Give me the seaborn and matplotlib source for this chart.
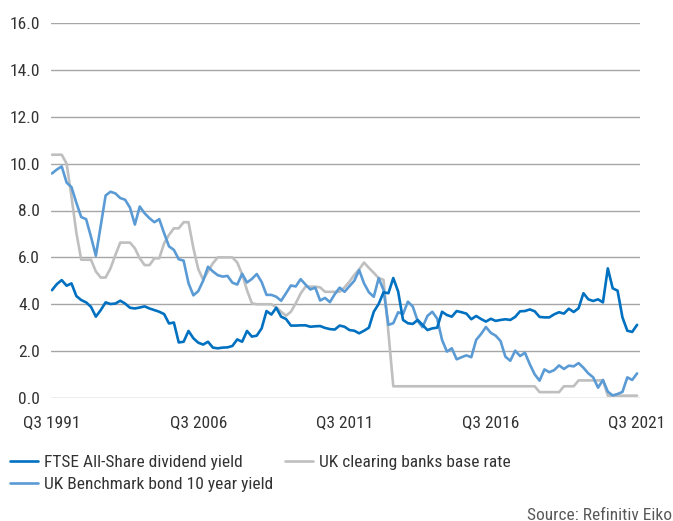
import matplotlib
matplotlib.use("Agg")
import matplotlib.pyplot as plt
from matplotlib import font_manager as fm
import numpy as np
import pandas as pd
import seaborn as sns

# Quarterly observations, Q3 1991 to Q3 2021 (121 quarters)
ftse_dividend_yield = [
    4.60, 4.86, 5.03, 4.79, 4.89, 4.35, 4.18, 4.08, 3.89, 3.47,
    3.75, 4.08, 4.01, 4.03, 4.15, 4.03, 3.85, 3.82, 3.86, 3.91,
    3.82, 3.75, 3.68, 3.58, 3.18, 3.22, 2.37, 2.40, 2.86, 2.55,
    2.36, 2.28, 2.40, 2.15, 2.12, 2.15, 2.16, 2.22, 2.50, 2.40,
    2.86, 2.62, 2.66, 2.97, 3.71, 3.56, 3.85, 3.47, 3.37, 3.09,
    3.09, 3.10, 3.10, 3.04, 3.06, 3.07, 2.99, 2.94, 2.92, 3.09,
    3.04, 2.90, 2.87, 2.76, 2.87, 3.00, 3.68, 4.01, 4.51, 4.47,
    5.12, 4.54, 3.33, 3.19, 3.16, 3.33, 3.12, 2.90, 2.97, 3.00,
    3.68, 3.54, 3.47, 3.71, 3.66, 3.60, 3.36, 3.50, 3.37, 3.26,
    3.38, 3.29, 3.33, 3.36, 3.33, 3.46, 3.70, 3.71, 3.78, 3.70,
    3.46, 3.44, 3.44, 3.57, 3.66, 3.60, 3.81, 3.67, 3.83, 4.47,
    4.21, 4.14, 4.21, 4.08, 5.53, 4.68, 4.58, 3.44, 2.87, 2.82,
    3.12,
]

gilt_10y_yield = [
    9.58, 9.75, 9.88, 9.19, 9.00, 8.33, 7.72, 7.63, 6.88, 6.07,
    7.35, 8.64, 8.80, 8.73, 8.53, 8.46, 8.12, 7.40, 8.17, 7.88,
    7.67, 7.50, 7.63, 7.03, 6.47, 6.32, 5.92, 5.86, 4.90, 4.38,
    4.56, 5.00, 5.60, 5.40, 5.24, 5.18, 5.21, 4.92, 4.84, 5.30,
    4.93, 5.08, 5.29, 4.95, 4.40, 4.40, 4.32, 4.15, 4.47, 4.80,
    4.76, 5.07, 4.84, 4.63, 4.71, 4.16, 4.27, 4.09, 4.43, 4.71,
    4.53, 4.77, 5.00, 5.46, 4.89, 4.51, 4.32, 5.11, 4.61, 3.12,
    3.19, 3.66, 3.58, 4.11, 3.90, 3.29, 3.02, 3.50, 3.68, 3.39,
    2.48, 1.98, 2.12, 1.65, 1.74, 1.82, 1.74, 2.48, 2.73, 3.03,
    2.78, 2.66, 2.43, 1.76, 1.59, 2.02, 1.79, 1.93, 1.44, 1.01,
    0.74, 1.22, 1.10, 1.19, 1.39, 1.24, 1.38, 1.35, 1.49, 1.29,
    1.05, 0.88, 0.44, 0.77, 0.27, 0.11, 0.17, 0.26, 0.88, 0.77,
    1.05,
]

base_rate = [
    10.38, 10.38, 10.38, 10.00, 8.60, 7.05, 5.90, 5.90, 5.90, 5.40,
    5.14, 5.14, 5.53, 6.10, 6.63, 6.63, 6.63, 6.39, 5.96, 5.67,
    5.67, 5.96, 5.96, 6.60, 6.96, 7.24, 7.24, 7.50, 7.50, 6.40,
    5.50, 5.05, 5.40, 5.75, 6.00, 6.00, 6.00, 6.00, 5.78, 5.28,
    4.60, 4.04, 4.00, 4.00, 4.00, 4.00, 3.87, 3.68, 3.51, 3.68,
    4.04, 4.46, 4.75, 4.75, 4.75, 4.72, 4.53, 4.53, 4.53, 4.53,
    4.72, 4.96, 5.25, 5.49, 5.78, 5.55, 5.34, 5.12, 5.04, 2.80,
    0.50, 0.50, 0.50, 0.50, 0.50, 0.50, 0.50, 0.50, 0.50, 0.50,
    0.50, 0.50, 0.50, 0.50, 0.50, 0.50, 0.50, 0.50, 0.50, 0.50,
    0.50, 0.50, 0.50, 0.50, 0.50, 0.50, 0.50, 0.50, 0.50, 0.50,
    0.25, 0.25, 0.25, 0.25, 0.25, 0.50, 0.50, 0.50, 0.75, 0.75,
    0.75, 0.75, 0.75, 0.75, 0.10, 0.10, 0.10, 0.10, 0.10, 0.10,
    0.10,
]

series_names = [
    "FTSE All-Share dividend yield",
    "UK Benchmark bond 10 year yield",
    "UK clearing banks base rate",
]
series_colors = ["#0070C0", "#5B9BD5", "#BFBFBF"]

tick_positions = [0, 30, 60, 90, 120]
tick_labels = ["Q3 1991", "Q3 2006", "Q3 2011", "Q3 2016", "Q3 2021"]
y_ticks = [0, 2, 4, 6, 8, 10, 12, 14, 16]


def pick_narrow_font():
    """Return (family, stretch) of an installed narrow sans face, if any."""
    preferred = ["Liberation Sans Narrow", "Roboto Condensed", "Noto Sans",
                 "Open Sans", "DejaVu Sans", "Roboto", "Liberation Sans"]
    narrow_words = ("condensed", "narrow")
    found = {}
    for f in fm.fontManager.ttflist:
        st = f.stretch
        if isinstance(st, str):
            is_narrow = any(w in st.lower() for w in narrow_words) and "extra" not in st.lower() \
                and "ultra" not in st.lower()
        else:
            is_narrow = 300 <= st < 500
        if "narrow" in f.name.lower() or "condensed" in f.name.lower():
            is_narrow = True
        if not is_narrow or f.style != "normal":
            continue
        w = f.weight if isinstance(f.weight, int) else 400
        if w not in (400, "normal", "regular"):
            continue
        found.setdefault(f.name, st)
    for name in preferred:
        if name in found:
            return name, found[name]
    if found:
        name = sorted(found)[0]
        return name, found[name]
    return "DejaVu Sans", "normal"


df = pd.concat(
    [
        pd.DataFrame({"quarter": np.arange(len(vals)), "value": vals, "series": name})
        for name, vals in zip(series_names, [ftse_dividend_yield, gilt_10y_yield, base_rate])
    ],
    ignore_index=True,
)

sns.set_style("white")
family, stretch = pick_narrow_font()
plt.rcParams["font.family"] = [family, "DejaVu Sans"]
plt.rcParams["font.stretch"] = stretch

fig = plt.figure(figsize=(6.73, 5.21), dpi=100)

# size the text so the legend entry spans about 200 px
probe = fig.text(0, 0, series_names[0], fontsize=13)
fig.canvas.draw()
probe_w = probe.get_window_extent().width
probe.remove()
fs = float(np.clip(13 * 198 / probe_w, 9.5, 13.5))
px_per_fs = fs * 100 / 72

ax = fig.add_axes([51 / 673, 1 - 398 / 521, (640 - 51) / 673, (398 - 23) / 521])

# base rate first so the two yields sit on top of it
draw_order = [series_names[2], series_names[1], series_names[0]]
sns.lineplot(
    data=df,
    x="quarter",
    y="value",
    hue="series",
    hue_order=draw_order,
    palette=dict(zip(series_names, series_colors)),
    linewidth=1.9,
    estimator=None,
    legend=False,
    ax=ax,
)

ax.set_xlim(-0.2, 120.6)
ax.set_ylim(0, 16)
ax.set_yticks(y_ticks)
ax.set_yticklabels([f"{v:.1f}" for v in y_ticks])
ax.set_xticks(tick_positions)
ax.set_xticklabels(tick_labels)
ax.set_xlabel("")
ax.set_ylabel("")

for side in ["top", "right", "left", "bottom"]:
    ax.spines[side].set_visible(False)

ax.grid(axis="y", color="#A6A6A6", linewidth=1.0)
ax.grid(axis="x", visible=False)
ax.set_axisbelow(True)
ax.tick_params(axis="y", length=0, pad=8, labelsize=fs, labelcolor="#333333")
ax.tick_params(axis="x", length=0, pad=12, labelsize=fs, labelcolor="#333333")

handles = [plt.Line2D([], [], color=c, linewidth=1.9) for c in series_colors]
fig.legend(
    handles,
    series_names,
    loc="upper left",
    bbox_to_anchor=(10 / 673, 1 - 455 / 521),
    ncol=2,
    frameon=False,
    fontsize=fs,
    handlelength=28 / px_per_fs,
    handletextpad=6 / px_per_fs,
    columnspacing=12 / px_per_fs,
    labelspacing=0.38,
    borderpad=0,
    borderaxespad=0,
    labelcolor="#333333",
)

fig.text(527 / 673, 1 - 515 / 521, "Source: Refinitiv Eikon", fontsize=fs,
         color="#595959", ha="left", va="center")

fig.savefig("out.png", dpi=100)
